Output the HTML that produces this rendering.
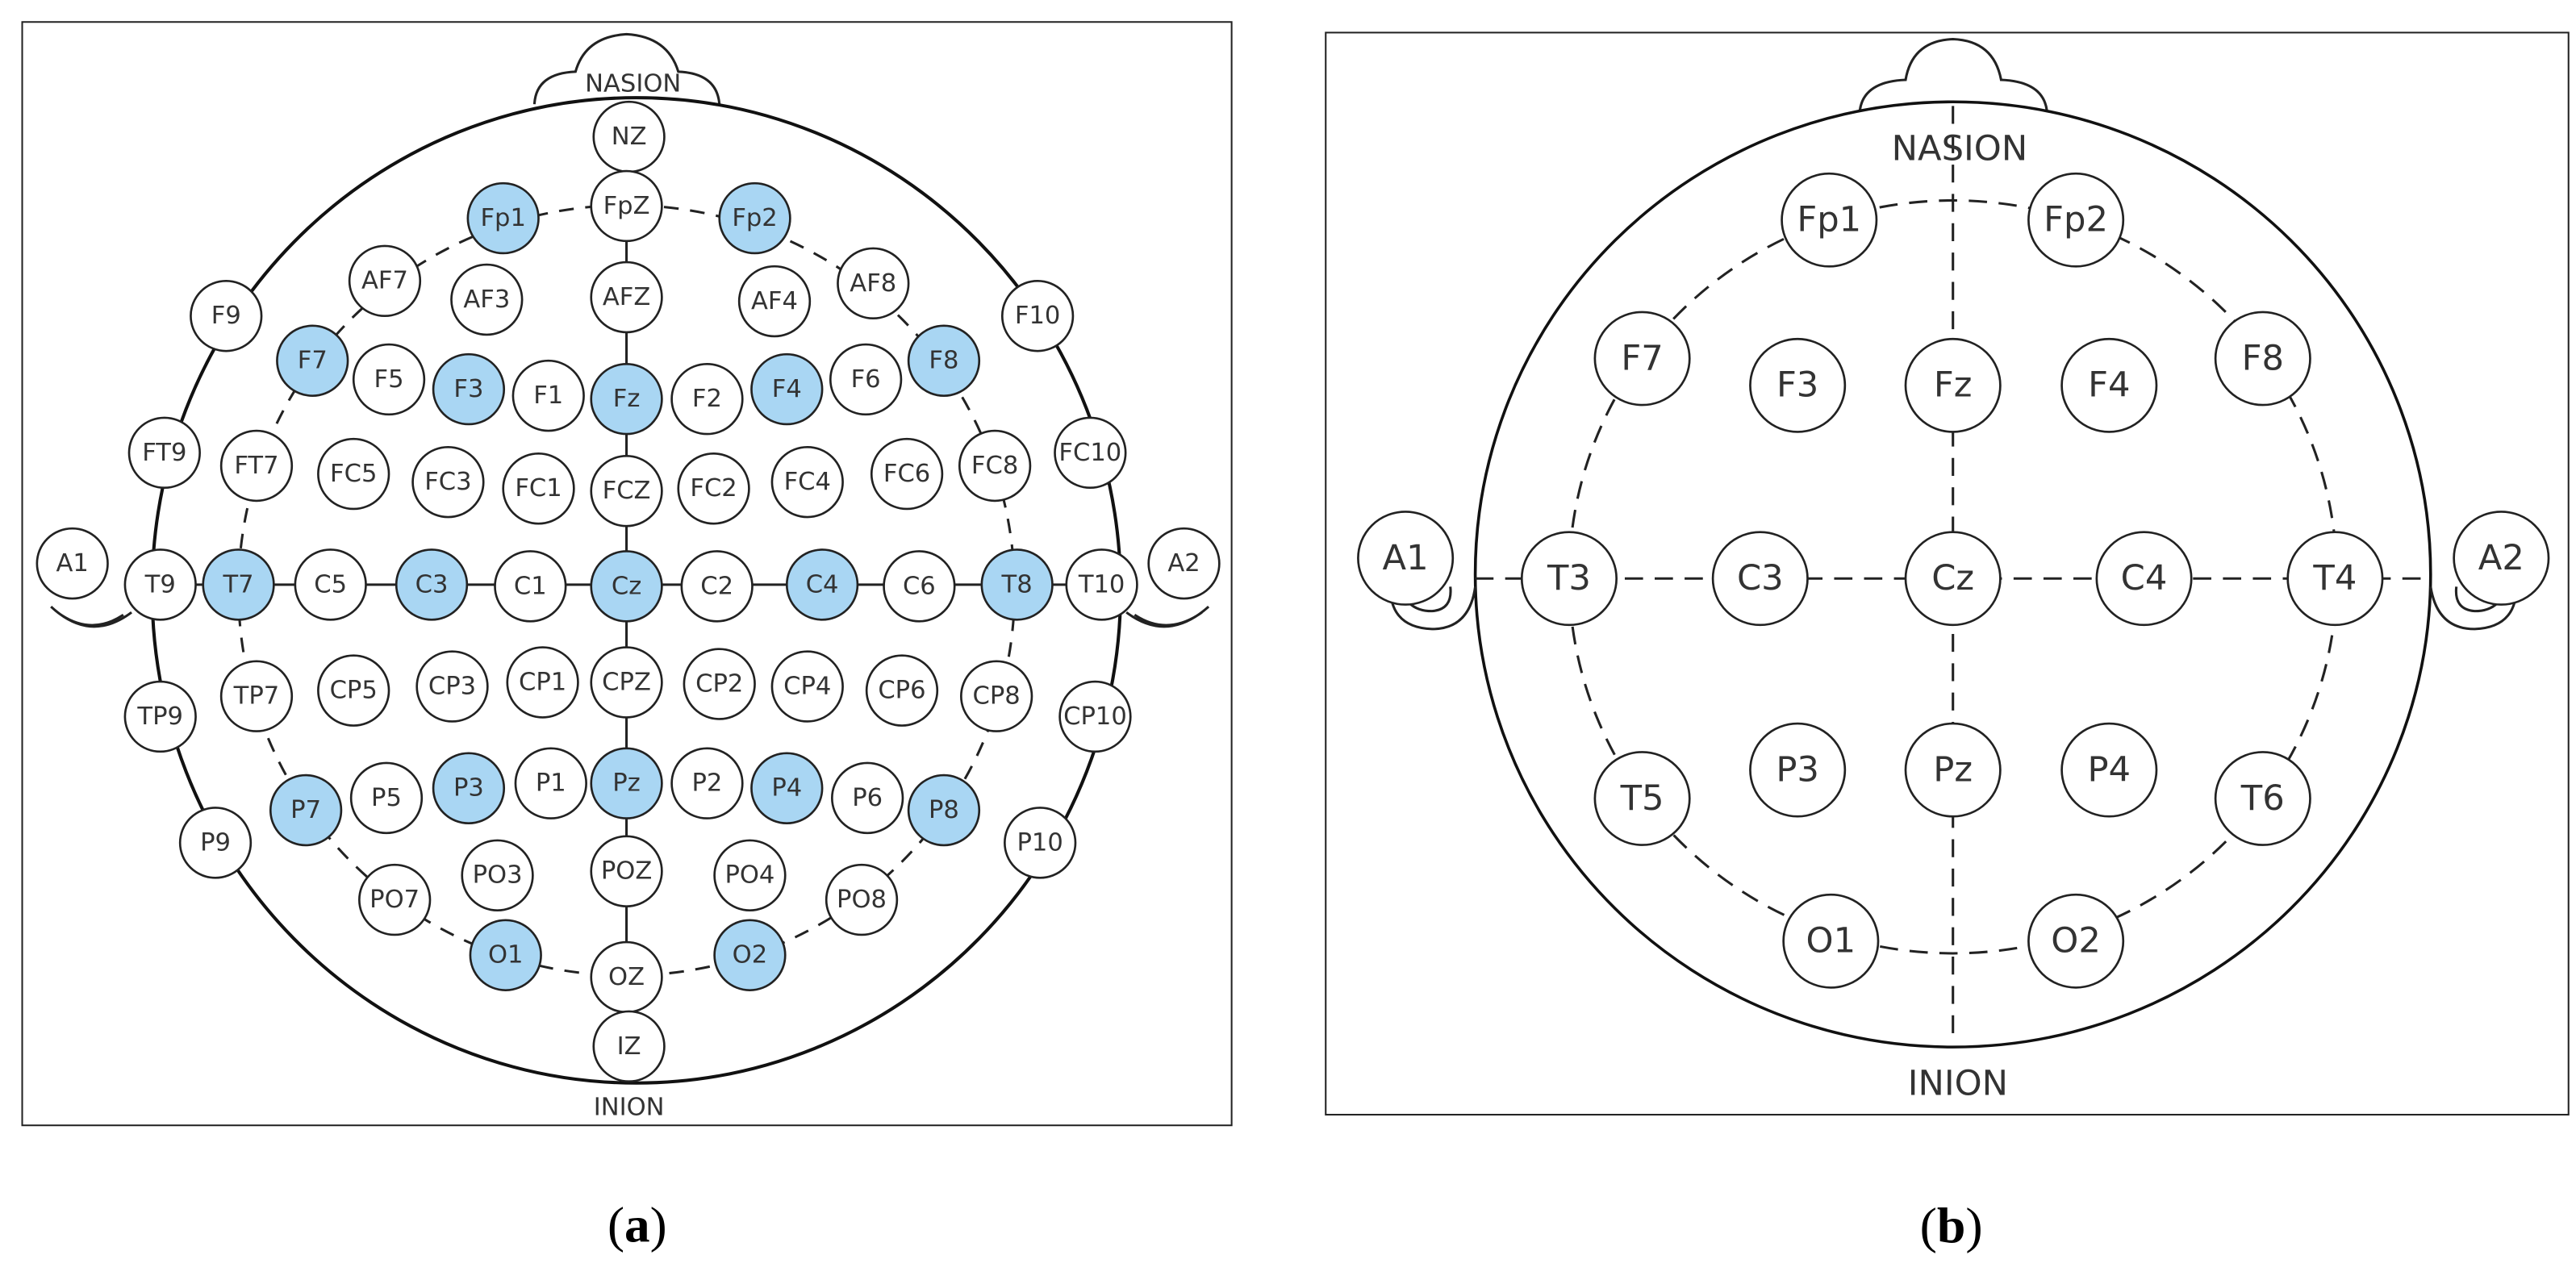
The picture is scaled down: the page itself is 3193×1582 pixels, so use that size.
<!DOCTYPE html>
<html><head><meta charset="utf-8"><style>
html,body{margin:0;padding:0;background:#fff;width:3193px;height:1582px;overflow:hidden}
svg{position:absolute;top:0}
.e{fill:#fff;stroke:#222;stroke-width:2.6}
.b{fill:#a9d6f3;stroke:#222;stroke-width:2.6}
text{font-family:"DejaVu Sans","Liberation Sans",sans-serif;text-anchor:middle;dominant-baseline:central}
.ta{font-size:30px;fill:#333}
.tb{font-size:42px;fill:#333}
.cap{font-family:"Liberation Serif",serif;font-size:62px;fill:#000;dominant-baseline:auto}
</style></head><body>
<svg style="left:0" width="1600" height="1582" viewBox="0 0 1570 1567" preserveAspectRatio="none">
<rect x="27" y="27" width="1471" height="1355" fill="#fff" stroke="#222" stroke-width="2"/>
<path d="M650 128 Q652 90 700 88 Q712 45 762 42 Q812 45 825 88 Q872 90 875 128" fill="#fff" stroke="#222" stroke-width="3"/>
<ellipse cx="774" cy="725" rx="589" ry="605" fill="#fff" stroke="#111" stroke-width="4"/>
<text x="770" y="103" class="ta">NASION</text>
<text x="765" y="1360" class="ta">INION</text>
<path d="M62 745 Q110 790 160 752 M70 752 Q110 782 150 755" fill="none" stroke="#222" stroke-width="3"/>
<path d="M1370 752 Q1420 790 1470 745 M1380 755 Q1420 782 1462 752" fill="none" stroke="#222" stroke-width="3"/>
<ellipse cx="762" cy="725" rx="472" ry="473" fill="none" stroke="#222" stroke-width="3" stroke-dasharray="18 14"/>
<line x1="762" y1="168" x2="762" y2="1285" stroke="#222" stroke-width="3"/>
<line x1="195" y1="718" x2="1340" y2="718" stroke="#222" stroke-width="3"/>
<g id="na"></g>
<text x="775" y="1525" class="cap">(<tspan font-weight="bold">a</tspan>)</text>
</svg>
<svg style="left:1600px" width="1593" height="1582" viewBox="0 0 1547 1566" preserveAspectRatio="none">
<rect x="42" y="40" width="1496" height="1328" fill="#fff" stroke="#222" stroke-width="2"/>
<path d="M685 135 Q690 100 740 98 Q748 50 797 48 Q846 50 855 98 Q905 100 910 135" fill="#fff" stroke="#222" stroke-width="3"/>
<ellipse cx="797" cy="705" rx="575" ry="580" fill="#fff" stroke="#111" stroke-width="3.5"/>
<path d="M120 710 Q115 770 170 772 Q215 772 222 720 M130 710 Q135 750 170 750 Q195 748 192 720" fill="none" stroke="#222" stroke-width="3"/>
<path d="M1372 720 Q1380 772 1425 772 Q1480 770 1475 710 M1403 720 Q1400 748 1425 750 Q1460 750 1465 710" fill="none" stroke="#222" stroke-width="3"/>
<ellipse cx="797" cy="708" rx="462" ry="462" fill="none" stroke="#222" stroke-width="3" stroke-dasharray="22 14"/>
<line x1="797" y1="130" x2="797" y2="1272" stroke="#222" stroke-width="3" stroke-dasharray="22 14"/>
<line x1="222" y1="710" x2="1372" y2="710" stroke="#222" stroke-width="3" stroke-dasharray="22 14"/>
<text x="805" y="183" class="tb">NASION</text>
<text x="803" y="1330" class="tb">INION</text>
<g id="nb"></g>
<text x="795" y="1525" class="cap">(<tspan font-weight="bold">b</tspan>)</text>
</svg>
<script>
var A=[["NZ",765,168],["FpZ",762,253],["Fp1",612,268,1],["Fp2",918,268,1],["AF7",468,345],["AF3",592,368],["AFZ",762,365],["AF4",942,370],["AF8",1062,348],["F9",275,388],["F10",1262,388],["F7",380,443,1],["F5",473,466],["F3",570,478,1],["F1",667,486],["Fz",762,490,1],["F2",860,490],["F4",957,478,1],["F6",1053,466],["F8",1148,443,1],["FT9",200,556],["FT7",312,572],["FC5",430,582],["FC3",545,592],["FC1",655,600],["FCZ",762,603],["FC2",868,600],["FC4",982,592],["FC6",1103,582],["FC8",1210,572],["FC10",1326,556],["A1",88,692],["T9",195,718],["T7",290,718,1],["C5",402,718],["C3",525,718,1],["C1",645,720],["Cz",762,720,1],["C2",872,720],["C4",1000,718,1],["C6",1118,720],["T8",1237,718,1],["T10",1340,718],["A2",1440,692],["TP9",195,880],["TP7",312,855],["CP5",430,848],["CP3",550,843],["CP1",660,838],["CPZ",762,838],["CP2",875,840],["CP4",982,843],["CP6",1097,848],["CP8",1212,855],["CP10",1332,880],["P9",262,1035],["P7",372,995,1],["P5",470,980],["P3",570,968,1],["P1",670,962],["Pz",762,962,1],["P2",860,962],["P4",957,968,1],["P6",1055,980],["P8",1148,995,1],["P10",1265,1035],["PO7",480,1105],["PO3",605,1075],["POZ",762,1070],["PO4",912,1075],["PO8",1048,1105],["O1",615,1173,1],["OZ",762,1200],["O2",912,1173,1],["IZ",765,1285]];
var B=[["Fp1",648,270],["Fp2",945,270],["F7",423,440],["F3",610,473],["Fz",797,473],["F4",985,473],["F8",1170,440],["A1",138,685],["T3",335,710],["C3",565,710],["Cz",797,710],["C4",1027,710],["T4",1257,710],["A2",1457,685],["T5",423,980],["P3",610,945],["Pz",797,945],["P4",985,945],["T6",1170,980],["O1",650,1155],["O2",945,1155]];
function draw(id,L,r,tc){var s="";L.forEach(function(n){s+='<circle cx="'+n[1]+'" cy="'+n[2]+'" r="'+r+'" class="'+(n[3]?"b":"e")+'"/><text x="'+n[1]+'" y="'+n[2]+'" class="'+tc+'"'+(n[0].length>3?' font-size="26"':'')+'>'+n[0]+'</text>';});document.getElementById(id).innerHTML=s;}
draw("na",A,43,"ta");draw("nb",B,57,"tb");
</script>
</body></html>
